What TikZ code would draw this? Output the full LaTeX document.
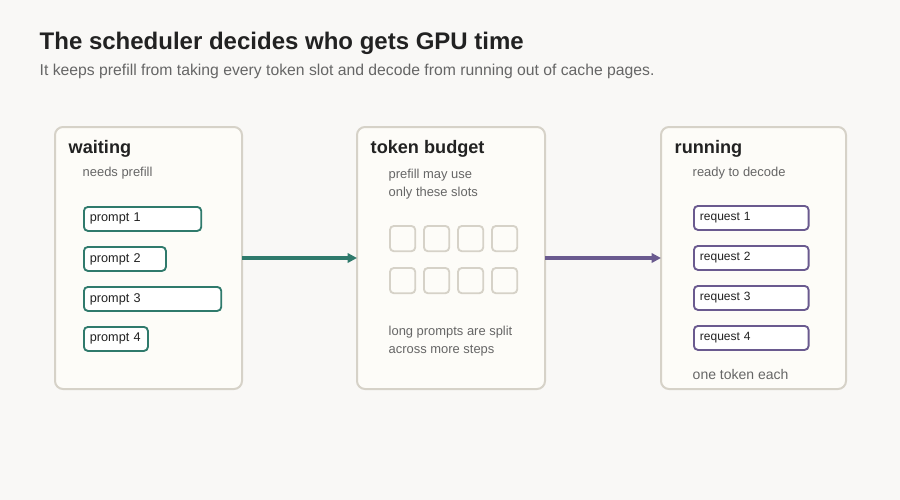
\documentclass[tikz,border=0pt]{standalone}
\usepackage{fontspec}
\setmainfont{Liberation Sans}
\usetikzlibrary{positioning,arrows.meta}
\definecolor{bgpage}{HTML}{F9F8F6}
\definecolor{cardfill}{HTML}{FDFCF8}
\definecolor{cardline}{HTML}{D6D2C8}
\definecolor{tealc}{HTML}{2F7A6C}
\definecolor{purplec}{HTML}{6A5A8F}
\definecolor{inkc}{HTML}{222222}
\definecolor{mutedc}{HTML}{666666}
\tikzset{
  card/.style={draw=cardline, fill=cardfill, line width=1.5pt, rounded corners=6pt},
  cardtitle/.style={anchor=west, font=\bfseries\fontsize{13.6}{16}\selectfont, text=inkc},
  note/.style={anchor=west, font=\fontsize{9.7}{13}\selectfont, text=mutedc, align=left},
  prompt/.style={draw=tealc, line width=1.4pt, rounded corners=3pt, fill=white, anchor=north west,
    minimum height=18pt, inner xsep=4.5pt, inner ysep=0pt, align=left, font=\fontsize{9.5}{11}\selectfont, text=inkc},
  request/.style={prompt, draw=purplec, font=\fontsize{9}{11}\selectfont},
  slot/.style={draw=cardline, line width=1.4pt, rounded corners=3pt, minimum size=19pt, anchor=north west},
  flow/.style={line width=2.3pt, -{Triangle[length=7pt,width=7pt]}}
}
\begin{document}
\begin{tikzpicture}[x=0.75pt,y=-0.75pt]
\fill[bgpage] (0,0) rectangle (900,500);
% heading
\node[anchor=west, font=\bfseries\fontsize{18}{21}\selectfont, text=inkc] (title) at (35,43) {The scheduler decides who gets GPU time};
\node[anchor=west, font=\fontsize{11.8}{14}\selectfont, text=mutedc] (subtitle) at (35,71) {It keeps prefill from taking every token slot and decode from running out of cache pages.};
% cards
\draw[card] (55,127) rectangle (242,389);
\draw[card] (357,127) rectangle (545,389);
\draw[card] (661,127) rectangle (846,389);
\coordinate (waitR) at (242,258);
\coordinate (budgetL) at (357,258);
\coordinate (budgetR) at (545,258);
\coordinate (runL) at (661,258);
% waiting
\node[cardtitle] (waitT) at (64,149) {waiting};
\node[note] (waitN) at (78,173) {needs prefill};
\node[prompt, text width=79pt] (p1) at (83,206) {\mbox{prompt 1}};
\node[prompt, text width=52.5pt] (p2) at (83,246) {\mbox{prompt 2}};
\node[prompt, text width=94pt] (p3) at (83,286) {\mbox{prompt 3}};
\node[prompt, text width=39pt] (p4) at (83,326) {\mbox{prompt 4}};
% token budget
\node[cardtitle] (budT) at (366,149) {token budget};
\node[note] (budN) at (384,184) {prefill may use\\only these slots};
\foreach \i in {0,...,3} {
  \node[slot] (s1\i) at (389+34*\i,225) {};
  \node[slot] (s2\i) at (389+34*\i,267) {};
}
\node[note] (budS) at (384,341) {long prompts are split\\across more steps};
% running
\node[cardtitle] (runT) at (670,149) {running};
\node[note] (runN) at (688,173) {ready to decode};
\foreach \i in {1,...,4}
  \node[request, text width=77pt] (r\i) at (693,205+40*\i-40) {\mbox{request \i}};
\node[anchor=west, font=\fontsize{10.5}{13}\selectfont, text=mutedc] (runE) at (688,374) {one token each};
% flows
\draw[flow, tealc] (waitR) -- (budgetL);
\draw[flow, purplec] (budgetR) -- (runL);
\end{tikzpicture}
\end{document}
